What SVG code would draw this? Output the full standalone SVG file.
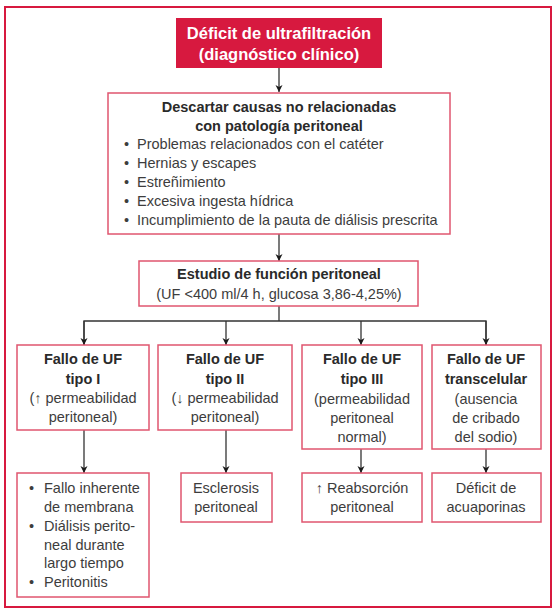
<svg xmlns="http://www.w3.org/2000/svg" width="559" height="612" viewBox="0 0 559 612">
<defs>
<style>
.frame{fill:none;stroke:#D7193F;stroke-width:2}
.box{fill:#fff;stroke:#E0566F;stroke-width:1.5}
.t{font-family:"Liberation Sans",Arial,sans-serif;font-size:14.5px;fill:#3d3d3d}
.b{font-weight:bold;fill:#2a2a2a}
.w{font-family:"Liberation Sans",Arial,sans-serif;font-size:16.5px;font-weight:bold;fill:#fff}
.c{text-anchor:middle}
.ln{fill:none;stroke:#333;stroke-width:1.3}
</style>
<marker id="ah" viewBox="0 0 10 10" refX="10" refY="5" markerWidth="7" markerHeight="8" markerUnits="userSpaceOnUse" orient="auto">
<path d="M0,0 L10,5 L0,10 L3,5 z" fill="#1a1a1a"/>
</marker>
</defs>
<rect width="559" height="612" fill="#fff"/>
<rect class="frame" x="5" y="7" width="546" height="600"/>

<g id="connectors">
<path class="ln" d="M279,68 V92" marker-end="url(#ah)"/>
<path class="ln" d="M279,234 V261" marker-end="url(#ah)"/>
<path class="ln" d="M279,306 V321"/>
<path class="ln" d="M84,345 V321 H486 V345"/>
<path class="ln" d="M84,321 V345" marker-end="url(#ah)"/>
<path class="ln" d="M226,321 V345" marker-end="url(#ah)"/>
<path class="ln" d="M361,321 V345" marker-end="url(#ah)"/>
<path class="ln" d="M486,321 V345" marker-end="url(#ah)"/>
<path class="ln" d="M84,430 V473" marker-end="url(#ah)"/>
<path class="ln" d="M226,430 V473" marker-end="url(#ah)"/>
<path class="ln" d="M361,449 V473" marker-end="url(#ah)"/>
<path class="ln" d="M486,449 V473" marker-end="url(#ah)"/>
</g>

<g id="n-deficit">
<rect x="176" y="18" width="206" height="50" fill="#D7193F"/>
<text class="w c" x="279" y="39">Déficit de ultrafiltración</text>
<text class="w c" x="279" y="60">(diagnóstico clínico)</text>
</g>

<g id="n-descartar">
<rect class="box" x="108" y="93" width="342" height="141"/>
<text class="t b c" x="279" y="112">Descartar causas no relacionadas</text>
<text class="t b c" x="279" y="131">con patología peritoneal</text>
<g class="t">
<text x="124" y="149">•</text><text x="137" y="149">Problemas relacionados con el catéter</text>
<text x="124" y="168">•</text><text x="137" y="168">Hernias y escapes</text>
<text x="124" y="187">•</text><text x="137" y="187">Estreñimiento</text>
<text x="124" y="206">•</text><text x="137" y="206">Excesiva ingesta hídrica</text>
<text x="124" y="225">•</text><text x="137" y="225">Incumplimiento de la pauta de diálisis prescrita</text>
</g>
</g>

<g id="n-estudio">
<rect class="box" x="139" y="261" width="279" height="45"/>
<text class="t b c" x="279" y="279">Estudio de función peritoneal</text>
<text class="t c" x="279" y="299">(UF &lt;400 ml/4 h, glucosa 3,86-4,25%)</text>
</g>

<g id="n-tipo1">
<rect class="box" x="17" y="345" width="132" height="85"/>
<text class="t b c" x="83" y="364">Fallo de UF</text>
<text class="t b c" x="83" y="384">tipo I</text>
<text class="t c" x="83" y="403">(↑ permeabilidad</text>
<text class="t c" x="83" y="422">peritoneal)</text>
</g>

<g id="n-tipo2">
<rect class="box" x="158" y="345" width="134" height="85"/>
<text class="t b c" x="225" y="364">Fallo de UF</text>
<text class="t b c" x="225" y="384">tipo II</text>
<text class="t c" x="225" y="403">(↓ permeabilidad</text>
<text class="t c" x="225" y="422">peritoneal)</text>
</g>

<g id="n-tipo3">
<rect class="box" x="302" y="345" width="120" height="104"/>
<text class="t b c" x="362" y="364">Fallo de UF</text>
<text class="t b c" x="362" y="384">tipo III</text>
<text class="t c" x="362" y="404">(permeabilidad</text>
<text class="t c" x="362" y="423">peritoneal</text>
<text class="t c" x="362" y="442">normal)</text>
</g>

<g id="n-transcelular">
<rect class="box" x="432" y="345" width="109" height="104"/>
<text class="t b c" x="486" y="364">Fallo de UF</text>
<text class="t b c" x="486" y="384">transcelular</text>
<text class="t c" x="486" y="404">(ausencia</text>
<text class="t c" x="486" y="423">de cribado</text>
<text class="t c" x="486" y="442">del sodio)</text>
</g>

<g id="n-causas1">
<rect class="box" x="17" y="473" width="132" height="124"/>
<g class="t">
<text x="29" y="493">•</text><text x="44" y="493">Fallo inherente</text>
<text x="44" y="512">de membrana</text>
<text x="29" y="531">•</text><text x="44" y="531">Diálisis perito-</text>
<text x="44" y="550">neal durante</text>
<text x="44" y="568">largo tiempo</text>
<text x="29" y="587">•</text><text x="44" y="587">Peritonitis</text>
</g>
</g>

<g id="n-esclerosis">
<rect class="box" x="181" y="473" width="91" height="49"/>
<text class="t c" x="226" y="493">Esclerosis</text>
<text class="t c" x="226" y="512">peritoneal</text>
</g>

<g id="n-reabsorcion">
<rect class="box" x="302" y="473" width="120" height="49"/>
<text class="t c" x="362" y="493">↑ Reabsorción</text>
<text class="t c" x="362" y="512">peritoneal</text>
</g>

<g id="n-acuaporinas">
<rect class="box" x="432" y="473" width="109" height="49"/>
<text class="t c" x="486" y="493">Déficit de</text>
<text class="t c" x="486" y="512">acuaporinas</text>
</g>
</svg>
